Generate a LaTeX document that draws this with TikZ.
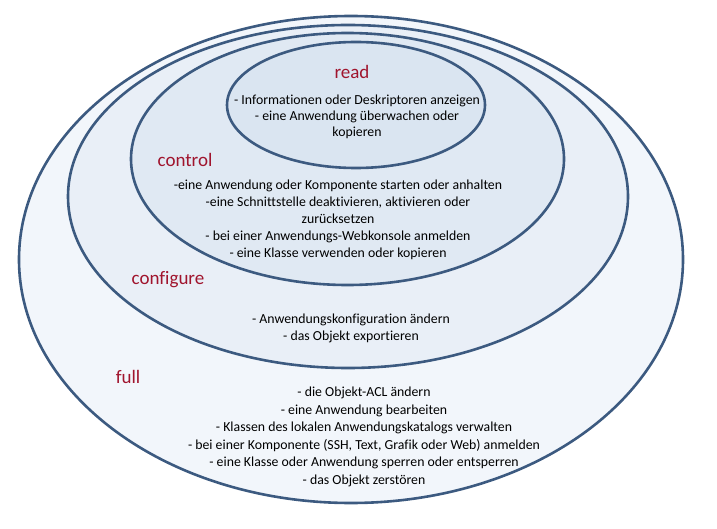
\documentclass[tikz,border=0pt]{standalone}
\usepackage{fontspec}
\setmainfont{Carlito}[Ligatures=NoCommon]
\usetikzlibrary{shapes.geometric}
\definecolor{ringline}{RGB}{60,90,128}
\definecolor{fillfull}{RGB}{242,246,251}
\definecolor{fillconf}{RGB}{233,239,247}
\definecolor{fillctrl}{RGB}{224,233,243}
\definecolor{fillread}{RGB}{218,229,241}
\definecolor{labelred}{RGB}{160,20,45}
\tikzset{
  ring/.style={ellipse, draw=ringline, line width=2.6pt, inner sep=0pt},
  level/.style={text=labelred, font=\fontsize{19}{22}\selectfont, inner sep=0pt},
  items/.style={align=center, font=\fontsize{13.8}{17}\selectfont, inner sep=0pt},
}
\begin{document}
\begin{tikzpicture}[x=1pt,y=1pt]
\useasboundingbox (0,0) rectangle (717,-529);
\node[ring, fill=fillfull, minimum width=664pt, minimum height=487pt] (full) at (351,-259.5) {};
\node[ring, fill=fillconf, minimum width=560pt, minimum height=343pt] (configure) at (348,-196.5) {};
\node[ring, fill=fillctrl, minimum width=433pt, minimum height=252pt] (control) at (347.5,-159) {};
\node[ring, fill=fillread, minimum width=258pt, minimum height=126pt] (read) at (356,-105) {};

\node[level] (readlbl) at (352,-72) {read};
\node[items, font=\fontsize{13.8}{16}\selectfont] (readtxt) at (357,-117) {- Informationen oder Deskriptoren anzeigen\\- eine Anwendung überwachen oder\\kopieren};

\node[level] (ctrllbl) at (185,-160) {control};
\node[items] (ctrltxt) at (338,-220) {-eine Anwendung oder Komponente starten oder anhalten\\-eine Schnittstelle deaktivieren, aktivieren oder\\zurücksetzen\\- bei einer Anwendungs-Webkonsole anmelden\\- eine Klasse verwenden oder kopieren};

\node[level] (conflbl) at (168,-280) {configure};
\node[items] (conftxt) at (351,-328.5) {- Anwendungskonfiguration ändern\\- das Objekt exportieren};

\node[level] (fulllbl) at (128,-377) {full};
\node[items, font=\fontsize{13.8}{17.5}\selectfont] (fulltxt) at (364,-437) {- die Objekt-ACL ändern\\- eine Anwendung bearbeiten\\- Klassen des lokalen Anwendungskatalogs verwalten\\- bei einer Komponente (SSH, Text, Grafik oder Web) anmelden\\- eine Klasse oder Anwendung sperren oder entsperren\\- das Objekt zerstören};
\end{tikzpicture}
\end{document}
